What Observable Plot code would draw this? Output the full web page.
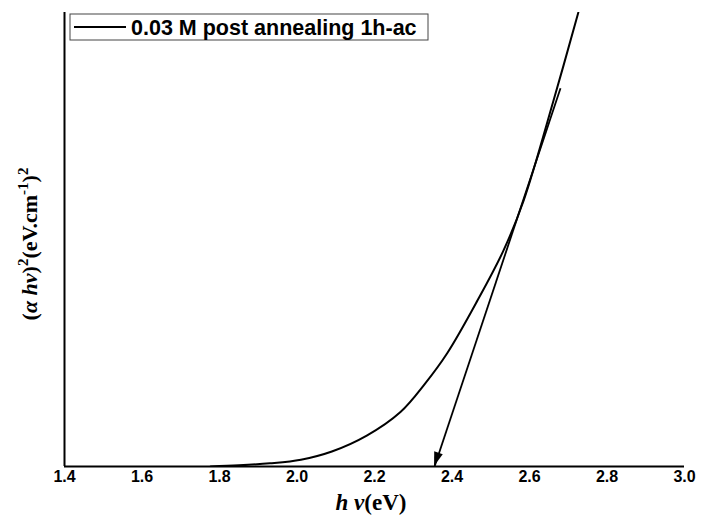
<!DOCTYPE html>
<html>
<head>
<meta charset="utf-8">
<script src="https://cdn.jsdelivr.net/npm/d3@7"></script>
<script src="https://cdn.jsdelivr.net/npm/@observablehq/plot@0.6"></script>
<style>
  body { margin: 0; background: #fff; }
  #chart { position: relative; width: 701px; height: 520px; }
</style>
</head>
<body>
<div id="chart"></div>
<script>
// photon energy (eV)
const energy = [1.777, 1.85, 1.93, 2.01, 2.09, 2.18, 2.267, 2.33, 2.388, 2.466, 2.533, 2.585, 2.662, 2.726];
// (alpha h nu)^2, arbitrary units (0-100 of plot height)
const absorb = [0, 0.25, 0.7, 1.5, 3.3, 6.8, 12.0, 18.2, 25.0, 36.6, 47.6, 58.6, 80.6, 100];
// tangent (Tauc extrapolation) endpoints
const tangentX = [2.68, 2.355];
const tangentY = [83.3, 0];
const xTicks = [1.4, 1.6, 1.8, 2.0, 2.2, 2.4, 2.6, 2.8, 3.0];
const legendLabel = "0.03 M post annealing 1h-ac";

const curve = energy.map((e, i) => ({x: e, y: absorb[i]}));
const tangent = [{x1: tangentX[0], y1: tangentY[0], x2: tangentX[1], y2: tangentY[1]}];

const sans = "'Liberation Sans', Arial, sans-serif";
const serif = "'Liberation Serif', 'Times New Roman', serif";

const W = 701, H = 520;
const mL = 64, mR = 17, mT = 12, mB = 54;

const plot = Plot.plot({
  width: W, height: H,
  marginLeft: mL, marginRight: mR, marginTop: mT, marginBottom: mB,
  style: {background: "#fff", color: "#000", fontSize: "16px", fontWeight: "bold", fontFamily: sans},
  x: {domain: [1.4, 3.0]},
  y: {domain: [0, 100]},
  marks: [
    Plot.line(curve, {x: "x", y: "y", curve: "catmull-rom", stroke: "#000", strokeWidth: 2, clip: true}),
    Plot.link(tangent, {x1: "x1", y1: "y1", x2: "x2", y2: "y2", stroke: "#000", strokeWidth: 1.8}),
    Plot.ruleX([1.4], {stroke: "#000", strokeWidth: 2}),
    Plot.ruleY([0], {stroke: "#000", strokeWidth: 2}),
    Plot.axisX({ticks: xTicks, tickSize: 0, tickPadding: 4, tickFormat: d3.format(".1f"), label: null}),
    Plot.axisY({ticks: [], label: null})
  ]
});
document.getElementById("chart").appendChild(plot);

const svg = d3.select(plot);
const xs = plot.scale("x"), ys = plot.scale("y");

// filled arrowhead at the tangent's lower end
{
  const ax = xs.apply(tangentX[1]), ay = ys.apply(tangentY[1]);
  const bx = xs.apply(tangentX[0]), by = ys.apply(tangentY[0]);
  const ang = Math.atan2(ay - by, ax - bx);
  const L = 14, w = 4.5;
  const p = (dx, dy) => [ax + dx * Math.cos(ang) - dy * Math.sin(ang), ay + dx * Math.sin(ang) + dy * Math.cos(ang)];
  const pts = [p(0, 0), p(-L, -w), p(-L, w)];
  svg.append("path").attr("d", "M" + pts.map(q => q.join(",")).join("L") + "Z").attr("fill", "#000");
}

// legend
const lg = svg.append("g");
lg.append("rect").attr("x", 70).attr("y", 14).attr("width", 358).attr("height", 26)
  .attr("fill", "#fff").attr("stroke", "#444").attr("stroke-width", 1);
lg.append("line").attr("x1", 74).attr("x2", 126).attr("y1", 27).attr("y2", 27)
  .attr("stroke", "#000").attr("stroke-width", 2);
lg.append("text").attr("x", 131).attr("y", 35).text(legendLabel)
  .style("text-anchor", "start").style("font-family", sans).style("font-weight", "bold").style("font-size", "21.5px").style("fill", "#000");

// x label: hν(eV)
const xl = svg.append("text").attr("x", 371).attr("y", 510)
  .style("text-anchor", "middle").style("font-family", serif).style("font-size", "23px").style("font-weight", "bold").style("fill", "#000");
xl.append("tspan").style("font-style", "italic").text("h ν");
xl.append("tspan").text("(eV)");

// y label: (α hν)^2(eV.cm^-1)^2
const yl = svg.append("text").attr("transform", "translate(37,244) rotate(-90)")
  .style("text-anchor", "middle").style("font-family", serif).style("font-size", "22px").style("font-weight", "bold").style("fill", "#000");
yl.append("tspan").text("(");
yl.append("tspan").style("font-style", "italic").text("α hν");
yl.append("tspan").text(")");
yl.append("tspan").attr("dy", -9).style("font-size", "15px").text("2");
yl.append("tspan").attr("dy", 9).text("(eV.cm");
yl.append("tspan").attr("dy", -9).style("font-size", "15px").text("-1");
yl.append("tspan").attr("dy", 9).text(")");
yl.append("tspan").attr("dy", -9).style("font-size", "15px").text("2");
</script>
</body>
</html>
